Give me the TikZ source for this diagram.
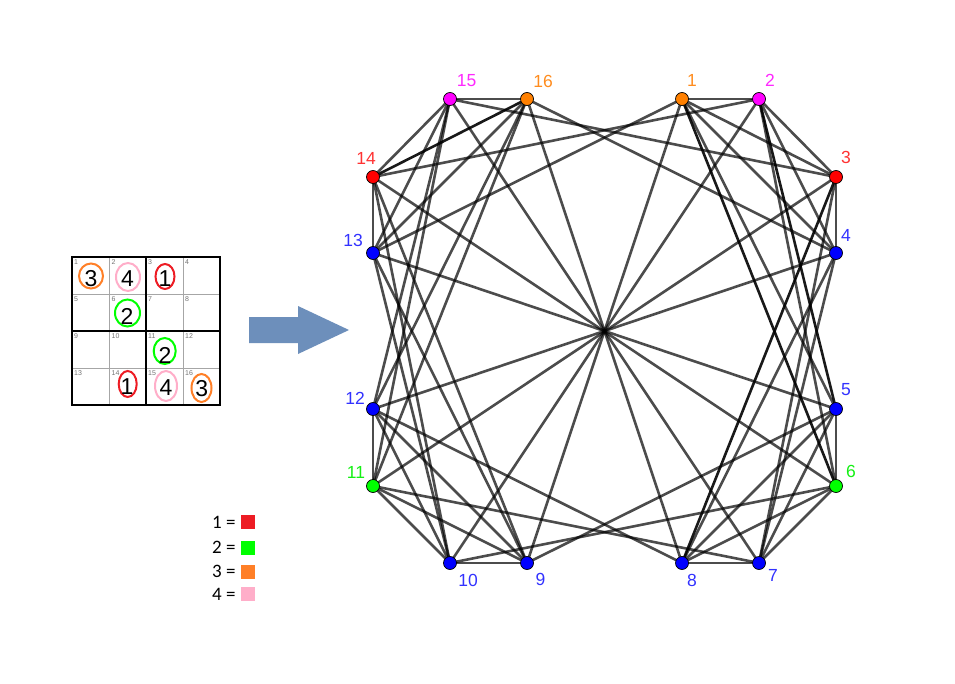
\documentclass[tikz,border=0pt]{standalone}
\usepackage{fontspec}
\setmainfont{Liberation Sans}
\newfontfamily\legendfont{Carlito}
\usetikzlibrary{backgrounds}
\definecolor{gorange}{RGB}{255,128,0}
\definecolor{gmagenta}{RGB}{255,0,255}
\definecolor{gred}{RGB}{255,0,0}
\definecolor{gblue}{RGB}{0,0,255}
\definecolor{ggreen}{RGB}{0,255,0}
\definecolor{lorange}{RGB}{255,140,30}
\definecolor{lmagenta}{RGB}{255,40,255}
\definecolor{lred}{RGB}{255,50,50}
\definecolor{lblue}{RGB}{50,50,255}
\definecolor{lgreen}{RGB}{20,240,20}
\definecolor{pred}{RGB}{237,28,36}
\definecolor{pgreen}{RGB}{0,255,0}
\definecolor{porange}{RGB}{255,127,39}
\definecolor{ppink}{RGB}{255,174,201}
\definecolor{arrowblue}{RGB}{109,143,187}
\begin{document}
\begin{tikzpicture}[x=1bp,y=-1bp,
  vert/.style={circle,draw=black,line width=0.7bp,inner sep=0pt,minimum size=13bp},
  vlabel/.style={inner sep=0pt,font=\fontsize{17.5bp}{20bp}\selectfont},
  edge/.style={draw=black,draw opacity=0.7,line width=2.6bp},
  darkedge/.style={draw=black,draw opacity=0.9,line width=2.6bp},
  thin grid/.style={draw=black!35,line width=0.8bp},
  thick grid/.style={draw=black,line width=2.6bp},
  cellno/.style={inner sep=0pt,anchor=north west,text=black!55,font=\fontsize{7bp}{8bp}\selectfont},
  digit/.style={inner sep=0pt,font=\fontsize{23bp}{26bp}\selectfont},
  ring/.style={line width=2bp},
  legtext/.style={inner sep=0pt,anchor=base west,font=\legendfont\fontsize{19bp}{22bp}\selectfont},
  legbox/.style={inner sep=0pt,minimum size=14bp,anchor=north west}
]
\useasboundingbox (0,0) rectangle (955,684);

% ---------- sudoku grid ----------
\draw[thin grid] (109.5,257) -- (109.5,405);
\draw[thin grid] (183,257) -- (183,405);
\draw[thin grid] (72,294) -- (220,294);
\draw[thin grid] (72,368) -- (220,368);
\draw[thick grid] (146,257) -- (146,405);
\draw[thick grid] (72,331) -- (220,331);
\draw[thick grid] (72,257) rectangle (220,405);

\foreach \n/\cx/\cy in {1/72/257,2/109.5/257,3/146/257,4/183/257,
                        5/72/294,6/109.5/294,7/146/294,8/183/294,
                        9/72/331,10/109.5/331,11/146/331,12/183/331,
                        13/72/368,14/109.5/368,15/146/368,16/183/368}{
  \node[cellno] (c\n) at (\cx+2,\cy+2) {\n};
}

\draw[ring,draw=porange] (91,276) ellipse [x radius=12,y radius=12.5];
\draw[ring,draw=ppink] (128,277) ellipse [x radius=12,y radius=14];
\draw[ring,draw=pred] (165,276.5) ellipse [x radius=9.5,y radius=12.5];
\draw[ring,draw=pgreen] (127.5,313) ellipse [x radius=12.5,y radius=13.5];
\draw[ring,draw=pgreen] (164.7,351) ellipse [x radius=11,y radius=13];
\draw[ring,draw=pred] (127.7,384) ellipse [x radius=9,y radius=13];
\draw[ring,draw=ppink] (166,386) ellipse [x radius=11,y radius=15];
\draw[ring,draw=porange] (201.5,388) ellipse [x radius=10,y radius=14];

\node[digit] (d1) at (91,279) {3};
\node[digit] (d2) at (127.5,278.5) {4};
\node[digit] (d3) at (165,278.5) {1};
\node[digit] (d6) at (127,316) {2};
\node[digit] (d11) at (165,355.5) {2};
\node[digit] (d14) at (127,387) {1};
\node[digit] (d15) at (166,387.5) {4};
\node[digit] (d16) at (201.7,388.5) {3};

% ---------- block arrow ----------
\fill[arrowblue] (249,317) -- (298,317) -- (298,306) -- (349,330) -- (298,354) -- (298,343) -- (249,343) -- cycle;

% ---------- legend ----------
\node[legtext] (t1) at (212,528) {1 =};
\node[legtext] (t2) at (212,553) {2 =};
\node[legtext] (t3) at (212,577) {3 =};
\node[legtext] (t4) at (212,600) {4 =};
\node[legbox,fill=pred] (b1) at (241,515) {};
\node[legbox,fill=pgreen] (b2) at (241,541) {};
\node[legbox,fill=porange] (b3) at (241,565) {};
\node[legbox,fill=ppink] (b4) at (241,587) {};

% ---------- graph vertices ----------
\node[vert,fill=gorange]  (n1)  at (682,99)  {};
\node[vert,fill=gmagenta] (n2)  at (759,99)  {};
\node[vert,fill=gred]     (n3)  at (836,177) {};
\node[vert,fill=gblue]    (n4)  at (836,253) {};
\node[vert,fill=gblue]    (n5)  at (836,409) {};
\node[vert,fill=ggreen]   (n6)  at (836,486) {};
\node[vert,fill=gblue]    (n7)  at (759,563) {};
\node[vert,fill=gblue]    (n8)  at (682,563) {};
\node[vert,fill=gblue]    (n9)  at (527,563) {};
\node[vert,fill=gblue]    (n10) at (450,563) {};
\node[vert,fill=ggreen]   (n11) at (373,486) {};
\node[vert,fill=gblue]    (n12) at (373,409) {};
\node[vert,fill=gblue]    (n13) at (373,253) {};
\node[vert,fill=gred]     (n14) at (373,177) {};
\node[vert,fill=gmagenta] (n15) at (450,99)  {};
\node[vert,fill=gorange]  (n16) at (527,99)  {};

% ---------- labels ----------
\node[vlabel,text=lorange]  (l1)  at (692,80)  {1};
\node[vlabel,text=lmagenta] (l2)  at (770,80)  {2};
\node[vlabel,text=lred]     (l3)  at (846,157) {3};
\node[vlabel,text=lblue]    (l4)  at (846,235) {4};
\node[vlabel,text=lblue]    (l5)  at (846,390) {5};
\node[vlabel,text=lgreen]   (l6)  at (851,471) {6};
\node[vlabel,text=lblue]    (l7)  at (773,575) {7};
\node[vlabel,text=lblue]    (l8)  at (692,580) {8};
\node[vlabel,text=lblue]    (l9)  at (540.5,579) {9};
\node[vlabel,text=lblue]    (l10) at (468,580) {10};
\node[vlabel,text=lgreen]   (l11) at (356,472) {11};
\node[vlabel,text=lblue]    (l12) at (355,398) {12};
\node[vlabel,text=lblue]    (l13) at (353,240) {13};
\node[vlabel,text=lred]     (l14) at (366,158) {14};
\node[vlabel,text=lmagenta] (l15) at (466.5,81) {15};
\node[vlabel,text=lorange]  (l16) at (543,81)  {16};

% ---------- edges ----------
\begin{pgfonlayer}{background}
\foreach \a/\b in {1/2,1/3,1/4,2/3,2/4,3/4,
                   5/6,5/7,5/8,6/7,6/8,7/8,
                   9/10,9/11,9/12,10/11,10/12,11/12,
                   13/14,13/15,13/16,14/15,15/16,
                   1/5,1/9,1/13,5/9,5/13,9/13,
                   2/6,2/10,2/14,6/10,6/14,10/14,
                   3/7,3/11,3/15,7/11,7/15,11/15,
                   4/8,4/12,4/16,8/12,8/16,12/16,
                   4/7,9/14,10/13,11/16,12/15}{
  \draw[edge] (n\a.center) -- (n\b.center);
}
\foreach \a/\b in {1/6,2/5,3/8,14/16}{
  \draw[darkedge] (n\a.center) -- (n\b.center);
}
\end{pgfonlayer}
\end{tikzpicture}
\end{document}
